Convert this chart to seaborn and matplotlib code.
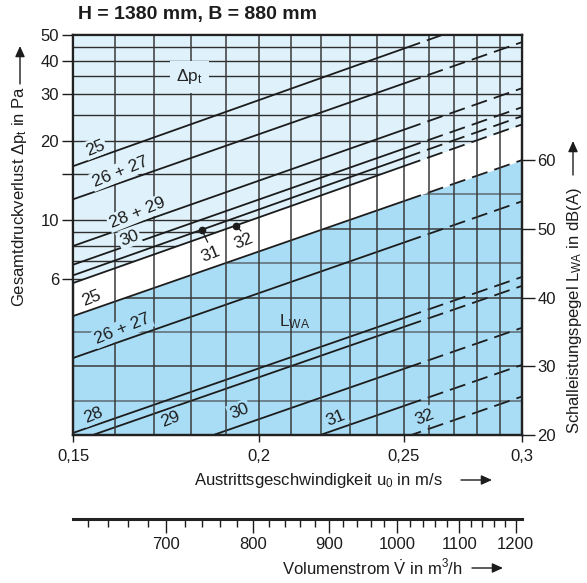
import matplotlib
matplotlib.use("Agg")
import matplotlib.pyplot as plt
import seaborn as sns
from matplotlib.patches import Rectangle, FancyArrowPatch
from matplotlib.ticker import FixedLocator, FuncFormatter, NullFormatter, NullLocator

sns.set_style("white")
plt.rcParams["font.family"] = ["Liberation Sans", "DejaVu Sans"]
plt.rcParams["mathtext.fontset"] = "custom"
plt.rcParams["mathtext.rm"] = "Liberation Sans"
plt.rcParams["mathtext.it"] = "Liberation Sans:italic"
plt.rcParams["mathtext.bf"] = "Liberation Sans:bold"

# ---- data ----
u_range = [0.15, 0.3]            # exit velocity u0 (m/s) at left / right edge
u_dash = 0.255                   # curves continue dashed beyond this
dp_names = ["25", "26 + 27", "28 + 29", "30", "31", "32"]
dp_start = [16.0, 12.0, 8.0, 6.8, 6.2, 5.8]        # Pa at u0 = 0.15
dp_end = [64.0, 47.0, 31.5, 26.7, 24.7, 23.0]      # Pa at u0 = 0.3
lwa_names = ["25", "26 + 27", "28", "29", "30", "31", "32"]
lwa_start = [37.3, 31.2, 20.3, 19.0, 12.9, 7.5, 2.9]   # dB(A) at u0 = 0.15
lwa_end = [60.0, 54.0, 43.0, 41.7, 35.6, 30.2, 25.6]   # dB(A) at u0 = 0.3
dot_u = [0.183, 0.193]
dot_pa = [9.2, 9.55]

u_ticks = [0.15, 0.2, 0.25, 0.3]
u_grid = [0.16, 0.17, 0.18, 0.19, 0.2, 0.21, 0.22, 0.23, 0.24, 0.25, 0.26, 0.27, 0.28, 0.29]
pa_ticks = [6, 10, 20, 30, 40, 50]
pa_grid = [5, 6, 7, 8, 9, 10, 15, 20, 25, 30, 35, 40, 45]
db_ticks = [20, 30, 40, 50, 60]
db_grid = [25, 30, 35, 40, 45, 50, 55]
vol_range = [606, 1212]
vol_ticks = [700, 800, 900, 1000, 1100, 1200]
vol_minor = [620, 640, 660, 680, 720, 740, 760, 780, 820, 840, 860, 880, 920, 940, 960, 980,
             1020, 1040, 1060, 1080, 1120, 1140, 1160, 1180]

light = "#dff2fb"
dark = "#a9ddf6"
ink = "#1c1c1c"
W, H = 587, 583

fig = plt.figure(figsize=(W / 100, H / 100), dpi=100)
ax = fig.add_axes([73 / W, 1 - 435 / H, 449 / W, 400 / H])
ax2 = ax.twinx()
ax.set_zorder(ax2.get_zorder() + 1)
ax.patch.set_visible(False)

ax.set_xscale("log")
ax.set_yscale("log")
ax.set_xlim(*u_range)
ax.set_ylim(1.55, 50)
ax2.set_ylim(20, 78.2)

# regions
dark_poly = ax2.fill_between(u_range, 0, [lwa_start[0], lwa_end[0]], color=dark, lw=0, zorder=0)
light_poly = ax.fill_between(u_range, [dp_start[-1], dp_end[-1]], 100, color=light, lw=0, zorder=0)

# grid lines
for d in db_grid:
    gl = ax2.axhline(d, color="#3a3a3a" if d % 10 == 0 else "#5d6b73", lw=1.1, zorder=1)
    gl.set_clip_path(dark_poly.get_paths()[0], ax2.transData)
for p in pa_grid:
    gl = ax.axhline(p, color="#2e2e2e", lw=1.0, zorder=1)
    gl.set_clip_path(light_poly.get_paths()[0], ax.transData)
for u in u_grid:
    ax.axvline(u, color="#3a3a3a", lw=1.1, zorder=1.5)


def draw_curve(a, y0, y1):
    solid_box = Rectangle((0.1, 0), u_dash - 0.1, 1, transform=a.get_xaxis_transform())
    dash_box = Rectangle((u_dash, 0), 0.5, 1, transform=a.get_xaxis_transform())
    l1, = a.plot(u_range, [y0, y1], color=ink, lw=1.3, zorder=3, solid_capstyle="butt")
    l1.set_clip_path(solid_box)
    l2, = a.plot(u_range, [y0, y1], color=ink, lw=1.3, zorder=3, ls=(0, (9, 4)))
    l2.set_clip_path(dash_box)


for s, e in zip(dp_start, dp_end):
    draw_curve(ax, s, e)
for s, e in zip(lwa_start, lwa_end):
    draw_curve(ax2, s, e)

ax.plot(dot_u, dot_pa, "o", ms=4.5, color=ink, zorder=6)

# curve labels (positions in axes fractions)
rot = 22
fs = 12.5


def lab(txt, fx, fy, fc, r=rot):
    ax.text(fx, fy, txt, transform=ax.transAxes, fontsize=fs, rotation=r, ha="center", va="center",
            color=ink, zorder=5, bbox=dict(boxstyle="square,pad=0.1", fc=fc, ec="none"))


dp_pos = [(0.049, 0.718, light), (0.105, 0.658, light), (0.143, 0.555, light),
          (0.125, 0.493, light), (0.307, 0.452, "white"), (0.381, 0.485, "white")]
for name, (fx, fy, fc) in zip(dp_names, dp_pos):
    lab(name, fx, fy, fc)

lwa_pos = [(0.042, 0.343, "white"), (0.111, 0.265, dark), (0.045, 0.05, dark), (0.218, 0.04, dark),
           (0.37, 0.06, dark), (0.586, 0.043, dark), (0.782, 0.045, dark)]
for name, (fx, fy, fc) in zip(lwa_names, lwa_pos):
    lab(name, fx, fy, fc)

# leader lines from the marked points to the labels 31 / 32
for (u, p), (fx, fy) in zip(zip(dot_u, dot_pa), [(0.30, 0.482), (0.374, 0.51)]):
    ax.annotate("", xy=(u, p), xytext=(fx, fy), textcoords="axes fraction",
                arrowprops=dict(arrowstyle="-", lw=0.9, color=ink, shrinkA=0, shrinkB=0), zorder=6)

ax.text(0.26, 0.895, r"$\mathrm{\Delta p_t}$", transform=ax.transAxes, fontsize=12.5, ha="center",
        va="center", zorder=5, bbox=dict(boxstyle="square,pad=0.35", fc=light, ec="none"))
ax.text(0.494, 0.283, r"$\mathrm{L_{WA}}$", transform=ax.transAxes, fontsize=12.5, ha="center",
        va="center", zorder=5)

# axes styling
for a in (ax, ax2):
    for sp in a.spines.values():
        sp.set_linewidth(1.6)
        sp.set_color("#222222")

fmt_comma = FuncFormatter(lambda v, pos: f"{v:g}".replace(".", ","))
ax.xaxis.set_major_locator(FixedLocator(u_ticks))
ax.xaxis.set_major_formatter(fmt_comma)
ax.xaxis.set_minor_locator(NullLocator())
ax.yaxis.set_major_locator(FixedLocator(pa_ticks))
ax.yaxis.set_major_formatter(FuncFormatter(lambda v, pos: f"{v:g}"))
ax.yaxis.set_minor_locator(FixedLocator([15]))
ax.yaxis.set_minor_formatter(NullFormatter())
ax2.yaxis.set_major_locator(FixedLocator(db_ticks))
ax2.yaxis.set_major_formatter(FuncFormatter(lambda v, pos: f"{v:g}"))

ax.tick_params(axis="x", which="both", bottom=True, direction="out", length=5, width=1,
               labelsize=12, pad=5, colors=ink)
ax.tick_params(axis="y", which="both", left=True, direction="out", length=8, width=1,
               labelsize=12, pad=2, colors=ink)
ax2.tick_params(axis="y", right=True, direction="out", length=9, width=1, labelsize=12, pad=2,
                colors=ink)

fig.text(78 / W, 1 - 15 / H, "H = 1380 mm, B = 880 mm", fontsize=14, fontweight="bold",
         ha="left", va="center", color=ink)
fig.text(20 / W, 1 - 196 / H, r"Gesamtdruckverlust $\mathrm{\Delta p_t}$ in Pa", rotation=90,
         fontsize=12, ha="center", va="center", color=ink)
fig.text(574 / W, 1 - 311 / H, r"Schalleistungspegel $\mathrm{L_{WA}}$ in dB(A)", rotation=90,
         fontsize=12, ha="center", va="center", color=ink)
fig.text(318 / W, 1 - 480 / H, r"Austrittsgeschwindigkeit $\mathrm{u_0}$ in m/s",
         fontsize=12, ha="center", va="center", color=ink)
fig.text(372 / W, 1 - 568 / H, r"Volumenstrom $\dot{\mathrm{V}}$ in m$^3$/h",
         fontsize=12, ha="center", va="center", color=ink)


def arrow(x0, y0, x1, y1):
    fig.add_artist(FancyArrowPatch((x0 / W, 1 - y0 / H), (x1 / W, 1 - y1 / H),
                                   transform=fig.transFigure, arrowstyle="-|>,head_length=4,head_width=1.8",
                                   lw=1.0, color=ink, shrinkA=0, shrinkB=0, mutation_scale=1.6))


arrow(20, 84, 20, 46)
arrow(573, 175, 573, 141)
arrow(461, 480, 492, 480)
arrow(472, 568, 503, 568)

# volume flow scale
axv = fig.add_axes([73 / W, 1 - 519 / H, 449 / W, 0.0001])
axv.set_xscale("log")
axv.set_xlim(*vol_range)
axv.set_yticks([])
for k in ("top", "left", "right"):
    axv.spines[k].set_visible(False)
axv.spines["bottom"].set_linewidth(2.2)
axv.spines["bottom"].set_color("#222222")
axv.xaxis.set_major_locator(FixedLocator(vol_ticks))
axv.xaxis.set_major_formatter(FuncFormatter(lambda v, pos: f"{v:g}"))
axv.xaxis.set_minor_locator(FixedLocator(vol_minor))
axv.xaxis.set_minor_formatter(NullFormatter())
axv.tick_params(axis="x", which="major", bottom=True, direction="out", length=10, width=1,
                labelsize=12, pad=3, colors=ink)
axv.tick_params(axis="x", which="minor", bottom=True, direction="out", length=6, width=1, colors=ink)

fig.savefig("out.png", dpi=100)
